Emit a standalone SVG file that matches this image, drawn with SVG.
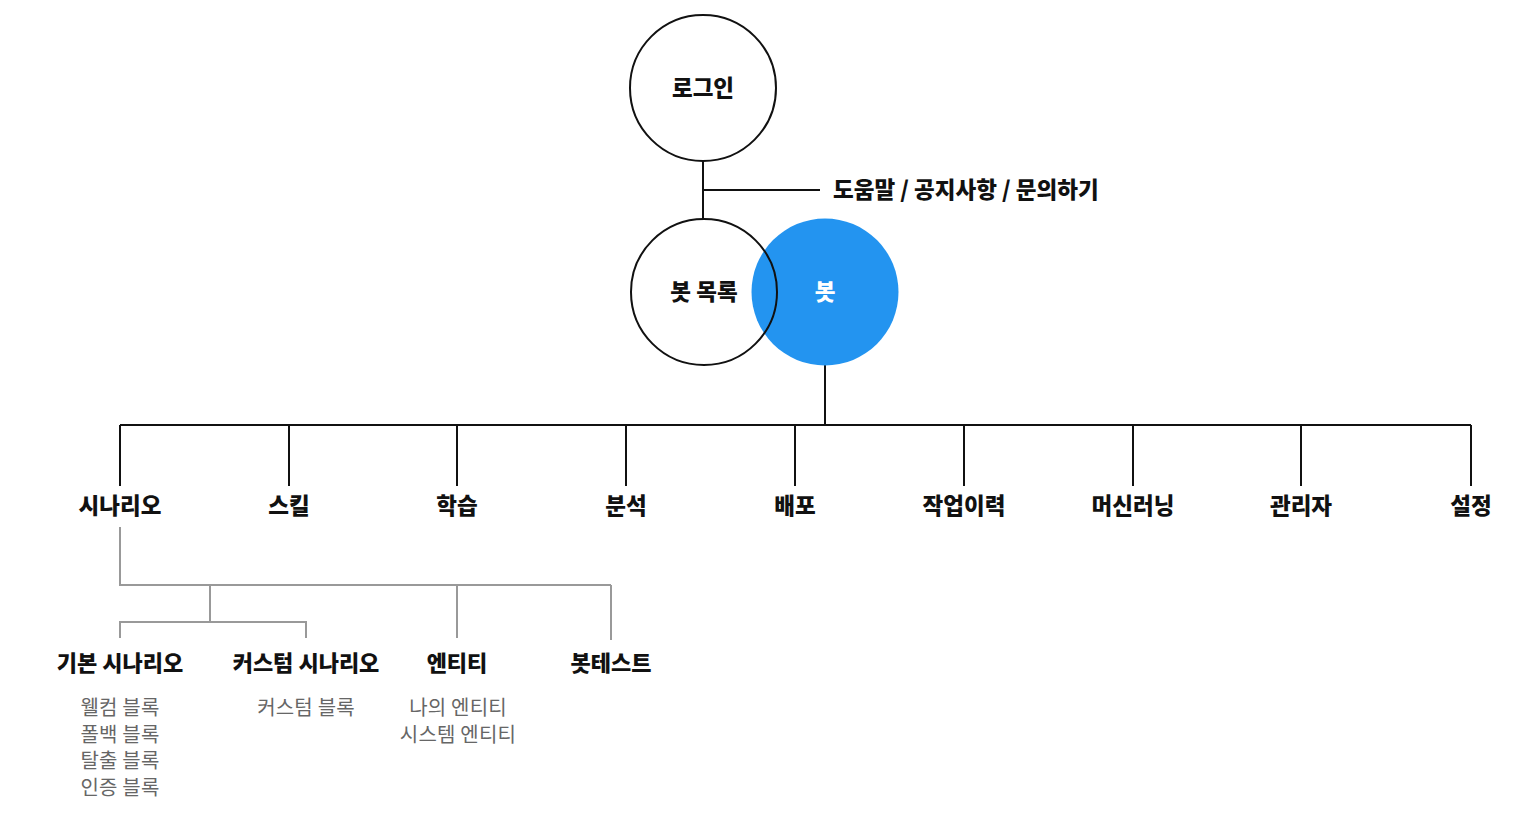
<svg xmlns="http://www.w3.org/2000/svg" width="1536" height="826" viewBox="0 0 1536 826">
<style>
.bold{font-family:"Noto Sans CJK KR","Noto Sans",sans-serif;font-weight:900;fill:#111;text-anchor:middle}
.l1{font-size:22.5px}
.l2{font-size:22px}
.sub{font-family:"Noto Sans CJK KR","Noto Sans",sans-serif;font-weight:400;font-size:20px;letter-spacing:0.2px;fill:#666;text-anchor:middle}
.k{stroke:#111;stroke-width:2;fill:none}
.g{stroke:#999;stroke-width:2;fill:none}
</style>
<rect width="1536" height="826" fill="#fff"/>
<g id="connectors">
<path class="k" d="M703 160V220M703 190H820"/>
<path class="k" d="M825 365V425M120 425H1471"/>
<path class="k" d="M120 425V486M289 425V486M457 425V486M626 425V486M795 425V486M964 425V486M1133 425V486M1301 425V486M1471 425V486"/>
<path class="g" d="M120 527V585H611M210 585V622M120 638V622H306V638M457 585V638M611 585V640"/>
</g>
<g id="login"><circle class="k" cx="703" cy="88" r="73"/><text class="bold l1" x="703" y="96">로그인</text></g>
<g id="help"><text class="bold l1" x="833" y="198" style="text-anchor:start">도움말 / 공지사항 / 문의하기</text></g>
<g id="bot"><circle cx="825" cy="292" r="73.5" fill="#2394F0"/><text class="bold l1" x="825" y="300" style="fill:#fff">봇</text></g>
<g id="botlist"><circle class="k" cx="704" cy="292" r="73"/><text class="bold l1" x="704" y="300">봇 목록</text></g>
<g id="scenario"><text class="bold l1" x="120" y="514">시나리오</text></g>
<g id="skill"><text class="bold l1" x="289" y="514">스킬</text></g>
<g id="learn"><text class="bold l1" x="457" y="514">학습</text></g>
<g id="analysis"><text class="bold l1" x="626" y="514">분석</text></g>
<g id="deploy"><text class="bold l1" x="795" y="514">배포</text></g>
<g id="history"><text class="bold l1" x="964" y="514">작업이력</text></g>
<g id="ml"><text class="bold l1" x="1133" y="514">머신러닝</text></g>
<g id="admin"><text class="bold l1" x="1301" y="514">관리자</text></g>
<g id="settings"><text class="bold l1" x="1471" y="514">설정</text></g>
<g id="basic"><text class="bold l2" x="120" y="671">기본 시나리오</text>
<text class="sub" x="120" y="715">웰컴 블록</text><text class="sub" x="120" y="741.5">폴백 블록</text><text class="sub" x="120" y="768">탈출 블록</text><text class="sub" x="120" y="794.5">인증 블록</text></g>
<g id="custom"><text class="bold l2" x="306" y="671">커스텀 시나리오</text><text class="sub" x="306" y="715">커스텀 블록</text></g>
<g id="entity"><text class="bold l2" x="457" y="671">엔티티</text><text class="sub" x="458" y="715">나의 엔티티</text><text class="sub" x="458" y="741.5">시스템 엔티티</text></g>
<g id="bottest"><text class="bold l2" x="611" y="671">봇테스트</text></g>
</svg>
